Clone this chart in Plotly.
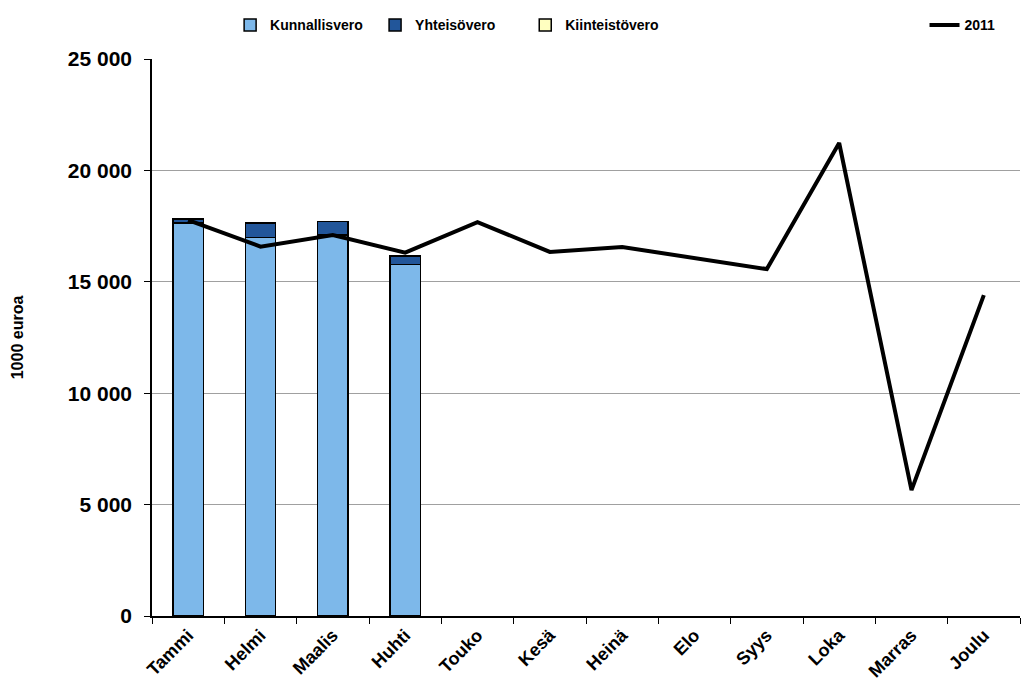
import plotly.graph_objects as go

months = ["Tammi", "Helmi", "Maalis", "Huhti", "Touko", "Kesä", "Heinä", "Elo", "Syys", "Loka", "Marras", "Joulu"]
kunnallisvero = [17650, 16980, 17100, 15785, None, None, None, None, None, None, None, None]
yhteisovero = [150, 670, 600, 370, None, None, None, None, None, None, None, None]
kiinteistovero = [10, 10, 10, 10, None, None, None, None, None, None, None, None]
v2011 = [17770, 16580, 17100, 16310, 17680, 16340, 16560, 16070, 15570, 21230, 5650, 14400]

fig = go.Figure()
fig.add_bar(x=months, y=kunnallisvero, name="Kunnallisvero", marker=dict(color="#7DB8EA", line=dict(color="black", width=1.5)), width=0.42, legend="legend", showlegend=True)
fig.add_bar(x=months, y=yhteisovero, name="Yhteisövero", marker=dict(color="#22569A", line=dict(color="black", width=1.5)), width=0.42, legend="legend3", showlegend=True)
fig.add_bar(x=months, y=kiinteistovero, name="Kiinteistövero", marker=dict(color="#FFFFC0", line=dict(color="black", width=1.5)), width=0.42, legend="legend4", showlegend=True)
fig.add_scatter(x=months, y=v2011, name="2011", mode="lines", line=dict(color="black", width=4), legend="legend2", showlegend=True)

font = "Liberation Sans, Arial, sans-serif"
leg = dict(orientation="h", y=0.975, xref="paper", yref="container", xanchor="left", yanchor="middle",
           font=dict(size=14, family=font, weight="bold"), bgcolor="rgba(0,0,0,0)", visible=True)
fig.update_layout(
    width=1029, height=695,
    barmode="stack",
    showlegend=True,
    separators=", ",
    plot_bgcolor="white", paper_bgcolor="white",
    margin=dict(l=144, r=17, t=51, b=87, autoexpand=False),
    font=dict(family=font, color="black"),
    legend=dict(leg, x=0.09),
    legend3=dict(leg, x=0.257),
    legend4=dict(leg, x=0.43),
    legend2=dict(leg, x=0.89),
    xaxis=dict(type="category", tickson="boundaries", ticks="outside", ticklen=6, tickcolor="black",
               showline=True, linecolor="black", linewidth=1.5, tickangle=-45,
               tickfont=dict(size=18, family=font, weight="bold"), showgrid=False),
    yaxis=dict(range=[0, 25000], dtick=5000, tickformat=",d", ticks="outside", ticklen=6, tickcolor="black",
               showline=True, linecolor="black", linewidth=1.5, showgrid=True, gridcolor="#A0A0A0", gridwidth=1,
               tickfont=dict(size=21, family=font, weight="bold"), ticklabelstandoff=8,
               title=dict(text="1000 euroa", font=dict(size=16, family=font, weight="bold"), standoff=40),
               zeroline=False),
)
fig.write_html("out.html")
